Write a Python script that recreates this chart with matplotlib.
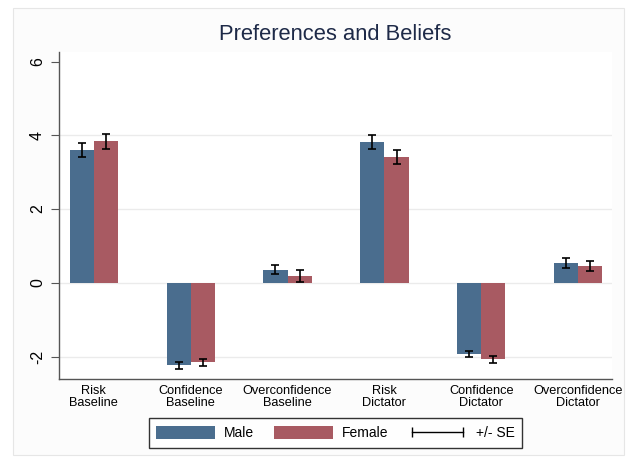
import numpy as np
import matplotlib
matplotlib.use('Agg')
import matplotlib.pyplot as plt
from matplotlib.patches import Patch, Rectangle
from matplotlib.lines import Line2D

plt.rcParams['font.family'] = ['Liberation Sans', 'DejaVu Sans']

# data
categories = ['Risk\nBaseline', 'Confidence\nBaseline', 'Overconfidence\nBaseline',
              'Risk\nDictator', 'Confidence\nDictator', 'Overconfidence\nDictator']
male = [3.60, -2.24, 0.36, 3.83, -1.93, 0.53]
male_se = [0.20, 0.10, 0.13, 0.19, 0.09, 0.14]
female = [3.84, -2.16, 0.19, 3.41, -2.08, 0.45]
female_se = [0.20, 0.09, 0.17, 0.20, 0.10, 0.14]
yticks = [-2, 0, 2, 4, 6]

male_col = '#4A6D8E'
female_col = '#A85A62'

fig = plt.figure(figsize=(6.29, 4.65), dpi=100)
fig.patch.set_facecolor('white')
# faint outer graph region
bg = Rectangle((13/629, 1-455/465), 611/629, 447/465, transform=fig.transFigure,
               facecolor='#FCFCFC', edgecolor='#E6E6E6', lw=0.8, zorder=-5)
fig.patches.append(bg)

ax = fig.add_axes([59/629, 1-379/465, 553/629, 327/465])
ax.set_facecolor('white')

x = np.arange(len(categories))
w = 0.25
ax.bar(x - w/2, male, w, color=male_col, zorder=2)
ax.bar(x + w/2, female, w, color=female_col, zorder=2)
ax.errorbar(x - w/2, male, yerr=male_se, fmt='none', ecolor='black', elinewidth=1.2,
            capsize=3, capthick=1.2, zorder=3)
ax.errorbar(x + w/2, female, yerr=female_se, fmt='none', ecolor='black', elinewidth=1.2,
            capsize=3, capthick=1.2, zorder=3)

ax.set_xlim(-0.36, 5.35)
ax.set_ylim(-2.61, 6.26)
ax.set_yticks(yticks)
ax.set_yticklabels([str(t) for t in yticks], rotation=90, va='center', fontsize=11.5)
for t in [-2, 0, 2, 4]:
    ax.axhline(t, color='#EBEBEB', lw=1, zorder=1)
ax.set_xticks(x)
ax.set_xticklabels(categories, fontsize=9.2, linespacing=1.05)
ax.tick_params(axis='x', length=0, pad=4)
ax.tick_params(axis='y', length=6, width=0.8, color='#555555', pad=4)
ax.spines['top'].set_visible(False)
ax.spines['right'].set_visible(False)
ax.spines['left'].set_color('#555555')
ax.spines['bottom'].set_color('#555555')
ax.spines['left'].set_linewidth(1.0)
ax.spines['bottom'].set_linewidth(1.0)

fig.text(335.5/629, 1-35/465, 'Preferences and Beliefs', ha='center', va='center',
         fontsize=15.8, color='#1E2A48')

handles = [Patch(facecolor=male_col), Patch(facecolor=female_col),
           Line2D([], [], color='black', lw=1, marker='|', markersize=7, markeredgewidth=1)]
fig.legend(handles, ['Male', 'Female', '+/- SE'], loc='center', bbox_to_anchor=(335.5/629, 1-433/465),
           ncol=3, frameon=True, fancybox=False, edgecolor='black', fontsize=10,
           handlelength=4.25, handleheight=1.15, numpoints=2, columnspacing=1.4,
           handletextpad=0.65, borderpad=0.55)

plt.savefig('out.png', dpi=100, facecolor=fig.get_facecolor())
